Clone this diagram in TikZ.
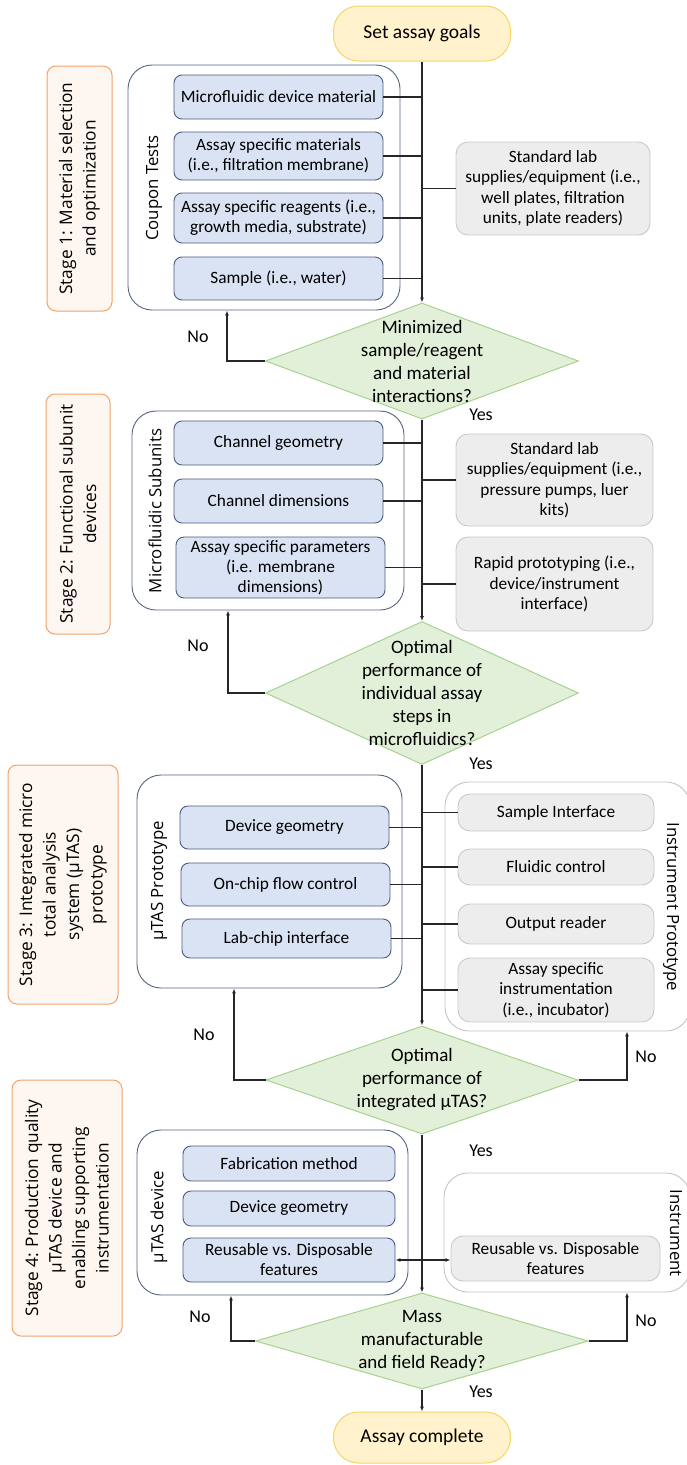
\documentclass[tikz,border=0pt]{standalone}
\usepackage{fontspec}
\setmainfont{Carlito}
\newfontfamily\labelfont{Open Sans}
\usetikzlibrary{shapes.geometric,arrows.meta}

\definecolor{stageline}{HTML}{F2A36B}
\definecolor{stagefill}{HTML}{FDF6F1}
\definecolor{groupline}{HTML}{56657F}
\definecolor{instline}{HTML}{C4C4C4}
\definecolor{subline}{HTML}{4C5C7E}
\definecolor{subfill}{HTML}{DAE3F3}
\definecolor{labline}{HTML}{C9C9C9}
\definecolor{labfill}{HTML}{EDEDED}
\definecolor{decline}{HTML}{A9D18E}
\definecolor{decfill}{HTML}{E2F0D9}
\definecolor{termline}{HTML}{F5D565}
\definecolor{termfill}{HTML}{FFF2CC}
\definecolor{linkcol}{HTML}{262626}

\begin{document}
\begin{tikzpicture}[x=1pt, y=-1pt,
  stagebox/.style={draw=stageline, fill=stagefill, line width=1pt, rounded corners=9pt, rotate=90,
    align=center, inner sep=0pt, font=\labelfont\fontsize{17.3}{23.5}\selectfont},
  group/.style={draw=groupline, line width=0.9pt, rounded corners=24pt, inner sep=0pt},
  instgroup/.style={draw=instline, line width=0.9pt, rounded corners=24pt, inner sep=0pt},
  grouplabel/.style={font=\labelfont\fontsize{16.8}{19}\selectfont, inner sep=0pt},
  subbox/.style={draw=subline, fill=subfill, line width=0.9pt, rounded corners=8pt, align=center,
    inner sep=0pt, minimum width=209pt, font=\fontsize{17.3}{20}\selectfont},
  labbox/.style={draw=labline, fill=labfill, line width=0.9pt, rounded corners=12pt, align=center,
    inner sep=0pt, font=\fontsize{17.3}{20.5}\selectfont},
  decision/.style={diamond, draw=decline, fill=decfill, line width=1pt, inner sep=0pt},
  dtext/.style={align=center, inner sep=0pt, font=\fontsize{19}{23}\selectfont},
  terminal/.style={draw=termline, fill=termfill, line width=1pt, rounded corners=25pt,
    minimum width=177pt, font=\fontsize{19.5}{23}\selectfont},
  answer/.style={inner sep=0pt, font=\fontsize{18}{20}\selectfont},
  link/.style={draw=linkcol, line width=1.1pt},
  arr/.style={link, -{Latex[length=5pt,width=4pt]}},
  dblarr/.style={link, {Latex[length=5pt,width=4pt]}-{Latex[length=5pt,width=4pt]}},
]
  \useasboundingbox (0,0) rectangle (687,1465);

  % stage 1
  \node[terminal, minimum height=55pt] (goal) at (422,33.5) {Set assay goals};
  \node[stagebox, minimum width=245pt, minimum height=65pt] (st1) at (79.5,188.5)
    {Stage 1: Material selection\\and optimization};
  \node[group, minimum width=272pt, minimum height=245pt] (coupon) at (264,187.5) {};
  \node[grouplabel, rotate=90] (couponlbl) at (154,188) {Coupon Tests};
  \node[subbox, minimum height=44pt] (b11) at (278.5,97) {Microfluidic device material};
  \node[subbox, minimum height=48pt] (b12) at (278.5,156) {Assay specific materials\\(i.e., filtration membrane)};
  \node[subbox, minimum height=50pt] (b13) at (278.5,218) {Assay specific reagents (i.e.,\\growth media, substrate)};
  \node[subbox, minimum height=43pt] (b14) at (278.5,278.5) {Sample (i.e., water)};
  \node[labbox, minimum width=194pt, minimum height=93pt] (g11) at (553,188.5)
    {Standard lab\\supplies/equipment (i.e.,\\well plates, filtration\\units, plate readers)};
  \node[decision, minimum width=313pt, minimum height=116pt,
    label={[dtext]center:{Minimized\\sample/reagent\\and material\\interactions?}}] (d1) at (422,361) {};

  \draw[arr] (goal) -- (d1);
  \foreach \b in {b11,b12,b13,b14}
    \draw[link] (\b.east) -- (\b.east -| d1.north);
  \draw[link] (g11.west) -- (g11.west -| d1.north);
  \draw[arr] (d1.west) -| ([xshift=-37pt]coupon.south);
  \node[answer] at (198,337) {No};
  \node[answer] at (481,415) {Yes};

  % stage 2
  \node[stagebox, minimum width=240pt, minimum height=64pt] (st2) at (78,514)
    {Stage 2: Functional subunit\\devices};
  \node[group, minimum width=272pt, minimum height=199pt] (msub) at (268,510.5) {};
  \node[grouplabel, rotate=90] (msublbl) at (155,511) {Microfluidic Subunits};
  \node[subbox, minimum height=44pt] (b21) at (278.5,443) {Channel geometry};
  \node[subbox, minimum height=44pt] (b22) at (278.5,501) {Channel dimensions};
  \node[subbox, minimum height=61pt] (b23) at (280.5,567.5) {Assay specific parameters\\(i.e. membrane\\dimensions)};
  \node[labbox, minimum width=197pt, minimum height=92pt] (g21) at (554.5,480)
    {Standard lab\\supplies/equipment (i.e.,\\pressure pumps, luer\\kits)};
  \node[labbox, minimum width=197pt, minimum height=94pt] (g22) at (554.5,584)
    {Rapid prototyping (i.e.,\\device/instrument\\interface)};
  \node[decision, minimum width=313pt, minimum height=143pt,
    label={[dtext]center:{Optimal\\performance of\\individual assay\\steps in\\microfluidics?}}] (d2) at (422,693) {};

  \draw[arr] (d1) -- (d2);
  \foreach \b in {b21,b22,b23}
    \draw[link] (\b.east) -- (\b.east -| d2.north);
  \foreach \g in {g21,g22}
    \draw[link] (\g.west) -- (\g.west -| d2.north);
  \draw[arr] (d2.west) -| ([xshift=-40pt]msub.south);
  \node[answer] at (198,646) {No};
  \node[answer] at (481,764) {Yes};

  % stage 3
  \node[stagebox, minimum width=239pt, minimum height=110pt] (st3) at (63,884.5)
    {Stage 3: Integrated micro\\total analysis\\system (µTAS)\\prototype};
  \node[group, minimum width=265pt, minimum height=213pt] (mproto) at (269.5,881.5) {};
  \node[grouplabel, rotate=90] (mprotolbl) at (159,881) {µTAS Prototype};
  \node[instgroup, minimum width=245pt, minimum height=249pt] (instp) at (567.5,906.5) {};
  \node[grouplabel, rotate=-90] (instplbl) at (671,907) {Instrument Prototype};
  \node[subbox, minimum height=43pt] (b31) at (284.5,827.5) {Device geometry};
  \node[subbox, minimum height=43pt] (b32) at (285.5,884.5) {On-chip flow control};
  \node[subbox, minimum height=39pt] (b33) at (286.5,938.5) {Lab-chip interface};
  \node[labbox, minimum width=196pt, minimum height=37pt] (g31) at (556,812.5) {Sample Interface};
  \node[labbox, minimum width=196pt, minimum height=36pt] (g32) at (556,867) {Fluidic control};
  \node[labbox, minimum width=196pt, minimum height=40pt] (g33) at (556,924) {Output reader};
  \node[labbox, minimum width=196pt, minimum height=64pt] (g34) at (556,990)
    {Assay specific\\instrumentation\\(i.e., incubator)};
  \node[decision, minimum width=312pt, minimum height=108pt,
    label={[dtext]center:{Optimal\\performance of\\integrated µTAS?}}] (d3) at (422,1080) {};

  \draw[arr] (d2) -- (d3);
  \foreach \b in {b31,b32,b33}
    \draw[link] (\b.east) -- (\b.east -| d3.north);
  \foreach \g in {g31,g32,g33,g34}
    \draw[link] (\g.west) -- (\g.west -| d3.north);
  \draw[arr] (d3.west) -| ([xshift=-35.5pt]mproto.south);
  \draw[arr] (d3.east) -| ([xshift=59.5pt]instp.south);
  \node[answer] at (204,1035) {No};
  \node[answer] at (646,1057) {No};
  \node[answer] at (481,1151) {Yes};

  % stage 4
  \node[stagebox, minimum width=256pt, minimum height=110pt] (st4) at (67,1208)
    {Stage 4: Production quality\\µTAS device and\\enabling supporting\\instrumentation};
  \node[group, minimum width=271pt, minimum height=165pt] (mdev) at (272.5,1212.5) {};
  \node[grouplabel, rotate=90] (mdevlbl) at (159,1217) {µTAS device};
  \node[instgroup, minimum width=246pt, minimum height=119pt] (inst) at (567,1232.5) {};
  \node[grouplabel, rotate=-90] (instlbl) at (676,1233) {Instrument};
  \node[subbox, minimum width=212pt, minimum height=35pt] (b41) at (289,1163.5) {Fabrication method};
  \node[subbox, minimum width=212pt, minimum height=35pt] (b42) at (289,1208.5) {Device geometry};
  \node[subbox, minimum width=212pt, minimum height=44pt] (b43) at (289,1260) {Reusable vs. Disposable\\features};
  \node[labbox, minimum width=209pt, minimum height=45pt] (g41) at (555.5,1258.5) {Reusable vs. Disposable\\features};
  \node[decision, minimum width=333pt, minimum height=96pt,
    label={[dtext]center:{Mass\\manufacturable\\and field Ready?}}] (d4) at (422,1341) {};
  \node[terminal, minimum height=51pt] (done) at (422,1437.5) {Assay complete};

  \draw[arr] (d3) -- (d4);
  \draw[arr] (d4) -- (done);
  \draw[dblarr] (b43.east) -- (b43.east -| g41.west);
  \draw[arr] (d4.west) -| ([xshift=-41.5pt]mdev.south);
  \draw[arr] (d4.east) -| ([xshift=60pt]inst.south);
  \node[answer] at (200,1317) {No};
  \node[answer] at (646,1321) {No};
  \node[answer] at (481,1392) {Yes};
\end{tikzpicture}
\end{document}
